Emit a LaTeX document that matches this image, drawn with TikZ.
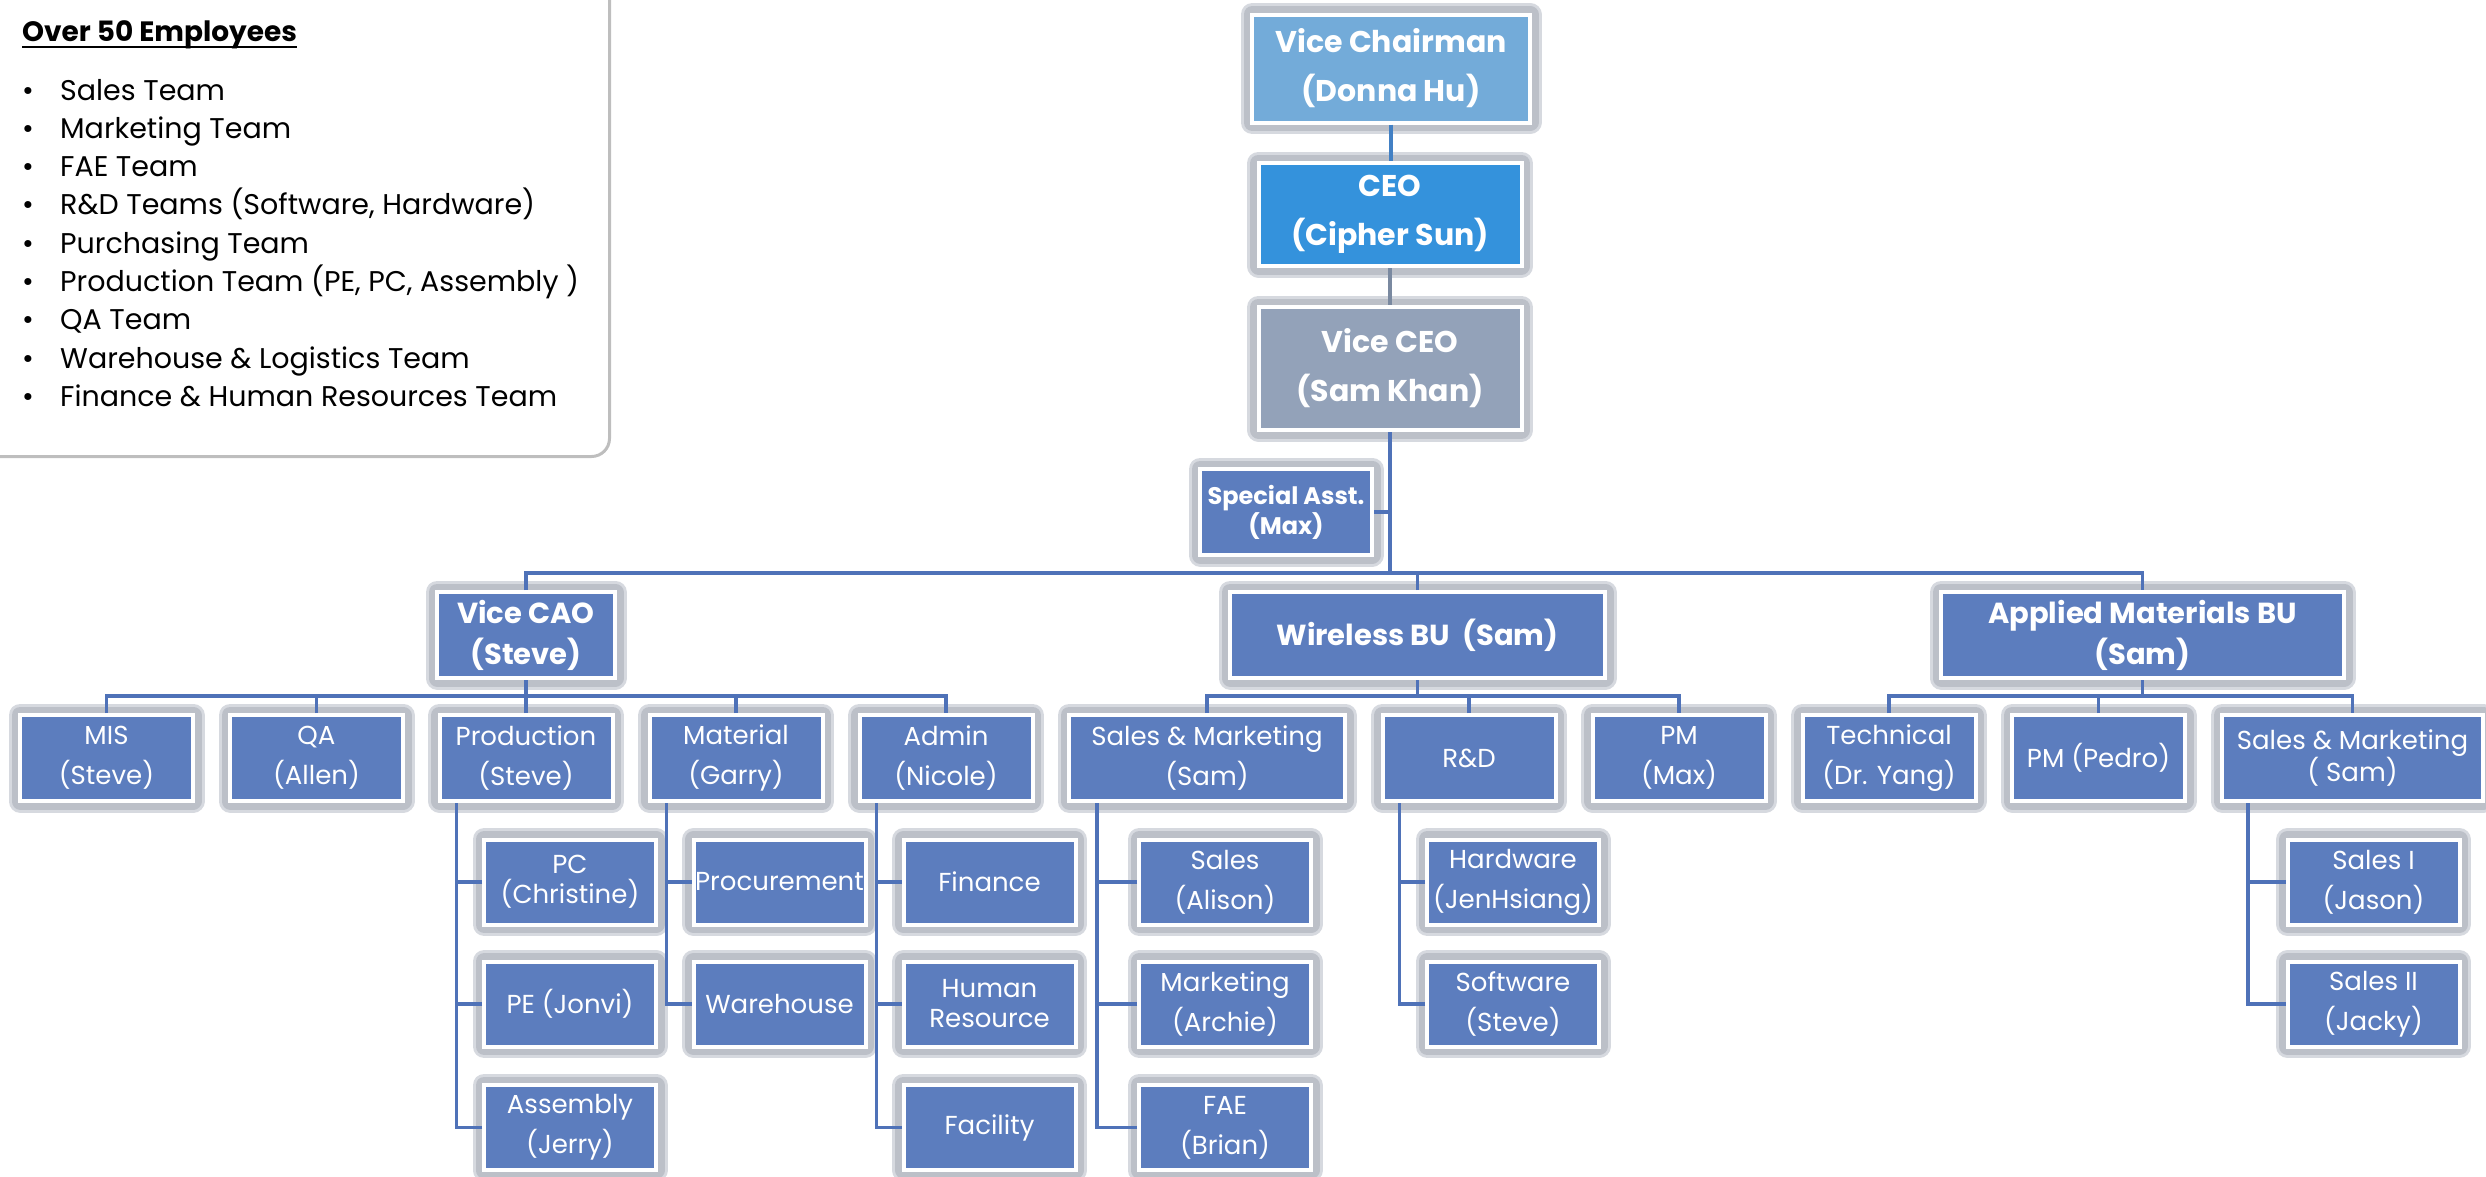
\documentclass[tikz,border=0pt]{standalone}
\usepackage{fontspec}
\setmainfont{Poppins}
\usetikzlibrary{calc}
\definecolor{boxblue}{RGB}{92,125,190}
\definecolor{vcblue}{RGB}{115,171,217}
\definecolor{ceoblue}{RGB}{52,146,220}
\definecolor{vceogray}{RGB}{147,162,185}
\definecolor{glowA}{RGB}{188,192,200}
\definecolor{glowB}{RGB}{214,217,223}
\definecolor{linkblue}{RGB}{79,114,184}
\definecolor{linkvc}{RGB}{66,128,196}
\definecolor{linkgray}{RGB}{122,137,160}
\definecolor{legendgray}{RGB}{190,190,190}
\newcommand\kidfont{\fontsize{26}{40}\selectfont}
\newcommand\kidtight{\fontsize{26}{30}\selectfont}
\newcommand\hdfont{\bfseries\fontsize{29}{41}\selectfont}
\newcommand\topfont{\bfseries\fontsize{30}{49}\selectfont}
\newcommand\legfont{\fontsize{28.5}{38}\selectfont}
\tikzset{
  orgbox/.style={draw=white, line width=4pt, fill=boxblue, text=white, align=center, inner sep=0pt,
    preaction={draw=glowB, line width=23pt, line join=round},
    preaction={draw=glowA, line width=17pt, line join=round}},
  kid/.style={orgbox, minimum width=173pt, minimum height=86pt, font=\kidfont},
  kidt/.style={orgbox, minimum width=173pt, minimum height=86pt, font=\kidtight},
  sub/.style={orgbox, minimum width=172pt, minimum height=85pt, font=\kidfont},
  subt/.style={orgbox, minimum width=172pt, minimum height=85pt, font=\kidtight},
  head/.style={orgbox, minimum height=86pt, font=\hdfont},
  link/.style={draw=linkblue, line width=3.5pt},
  legtext/.style={anchor=base west, inner sep=0pt, font=\legfont}
}
\begin{document}
\begin{tikzpicture}[x=1pt,y=-1pt]
\useasboundingbox (0,0) rectangle (2486,1176);

% legend
\draw[draw=legendgray, line width=3pt, rounded corners=18pt] (-30,-30) rectangle (609.5,456.5);
\node[anchor=base west, inner sep=0pt, font=\bfseries\fontsize{28}{32}\selectfont] (ttl) at (22,41) {Over 50 Employees};
\draw[line width=2.2pt] ([yshift=-6pt]ttl.base west) -- ([yshift=-6pt]ttl.base east);
\foreach \t [count=\i] in {Sales Team, Marketing Team, FAE Team, {R\&D Teams (Software, Hardware)}, Purchasing Team, {Production Team (PE, PC, Assembly )}, QA Team, {Warehouse \& Logistics Team}, {Finance \& Human Resources Team}}{
  \node[legtext] (lb\i) at (22,{100+38.3*(\i-1)}) {•};
  \node[legtext] (li\i) at (60,{100+38.3*(\i-1)}) {\t};
}

% top
\node[orgbox, fill=vcblue, minimum width=278pt, minimum height=108pt, font=\topfont] (vc) at (1391,68.5) {Vice Chairman\\(Donna Hu)};
\node[orgbox, fill=ceoblue, minimum width=263pt, minimum height=103pt, font=\topfont] (ceo) at (1390,214.5) {CEO\\(Cipher Sun)};
\node[orgbox, fill=vceogray, minimum width=263pt, minimum height=123pt, font=\topfont] (vceo) at (1390,368.5) {Vice CEO\\(Sam Khan)};
\node[orgbox, minimum width=172pt, minimum height=86pt, font=\bfseries\fontsize{24}{30}\selectfont] (sa) at (1286,512) {Special Asst.\\(Max)};

% level 2
\node[head, minimum width=178pt] (vcao) at (526,635) {Vice CAO\\(Steve)};
\node[head, minimum width=375pt] (wbu) at (1417.5,635) {Wireless BU~~(Sam)};
\node[head, minimum width=403pt] (ambu) at (2142.5,635) {Applied Materials BU\\(Sam)};

% level 3
\node[kid] (mis) at (106.5,758) {MIS\\(Steve)};
\node[kid] (qa) at (316.5,758) {QA\\(Allen)};
\node[kid] (prod) at (526,758) {Production\\(Steve)};
\node[kid] (mat) at (736,758) {Material\\(Garry)};
\node[kid] (adm) at (946,758) {Admin\\(Nicole)};
\node[kid, minimum width=276pt] (wsm) at (1207,758) {Sales \& Marketing\\(Sam)};
\node[kid] (rd) at (1469,758) {R\&D};
\node[kid] (pm) at (1679,758) {PM\\(Max)};
\node[kid] (tech) at (1889,758) {Technical\\(Dr. Yang)};
\node[kid] (pmp) at (2098.5,758) {PM (Pedro)};
\node[kidt, minimum width=261pt] (asm) at (2352.5,758) {Sales \& Marketing\\( Sam)};

% level 4
\node[subt] (pc) at (570,882) {PC\\(Christine)};
\node[sub] (pe) at (570,1004) {PE (Jonvi)};
\node[sub] (asy) at (570,1127.5) {Assembly\\(Jerry)};
\node[sub] (proc) at (779.5,882) {Procurement};
\node[sub] (wh) at (779.5,1004) {Warehouse};
\node[sub] (fin) at (989.5,882) {Finance};
\node[subt] (hr) at (989.5,1004) {Human\\Resource};
\node[sub] (fac) at (989.5,1127.5) {Facility};
\node[sub] (sal) at (1225,882) {Sales\\(Alison)};
\node[sub] (mkt) at (1225,1004) {Marketing\\(Archie)};
\node[sub] (fae) at (1225,1127.5) {FAE\\(Brian)};
\node[sub] (hw) at (1513,882) {Hardware\\(JenHsiang)};
\node[sub] (sw) at (1513,1004) {Software\\(Steve)};
\node[sub] (s1) at (2373.5,882) {Sales I\\(Jason)};
\node[sub] (s2) at (2373.5,1004) {Sales II\\(Jacky)};

% connectors
\draw[draw=linkvc, line width=3.5pt] (vc.south) -- (vc.south |- ceo.north);
\draw[draw=linkgray, line width=3.5pt] (ceo.south) -- (ceo.south |- vceo.north);
\draw[link] (vceo.south) -- ++(0,141);
\draw[link] (sa.east) -- (sa.east -| vceo.south);
\draw[link] (vcao.north) -- ++(0,-17) -| (ambu.north);
\draw[link] (wbu.north) -- ++(0,-17);

\draw[link] (vcao.south) -- ++(0,16);
\draw[link] (mis.north) -- ++(0,-17) -| (adm.north);
\foreach \n in {qa,prod,mat} \draw[link] (\n.north) -- ++(0,-17);
\draw[link] (wbu.south) -- ++(0,16);
\draw[link] (wsm.north) -- ++(0,-17) -| (pm.north);
\draw[link] (rd.north) -- ++(0,-17);
\draw[link] (ambu.south) -- ++(0,16);
\draw[link] (tech.north) -- ++(0,-17) -| (asm.north);
\draw[link] (pmp.north) -- ++(0,-17);

\foreach \c in {pc,pe,asy} \draw[link] (\c.west) -| ([xshift=19pt]prod.south west);
\foreach \c in {proc,wh} \draw[link] (\c.west) -| ([xshift=19pt]mat.south west);
\foreach \c in {fin,hr,fac} \draw[link] (\c.west) -| ([xshift=19pt]adm.south west);
\foreach \c in {sal,mkt,fae} \draw[link] (\c.west) -| ([xshift=30pt]wsm.south west);
\foreach \c in {hw,sw} \draw[link] (\c.west) -| ([xshift=19pt]rd.south west);
\foreach \c in {s1,s2} \draw[link] (\c.west) -| ([xshift=28pt]asm.south west);
\end{tikzpicture}
\end{document}
